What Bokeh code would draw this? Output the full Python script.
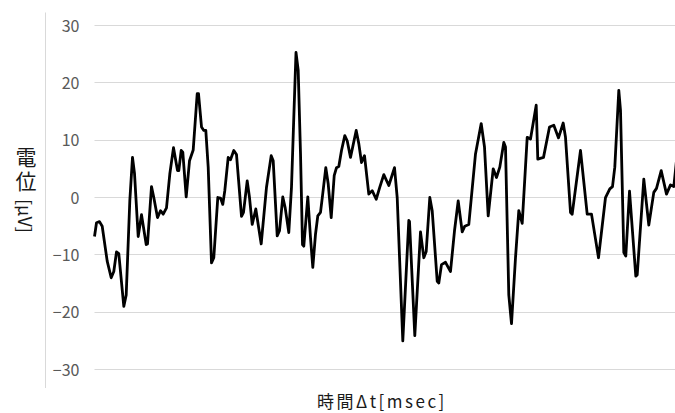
from bokeh.plotting import figure
from bokeh.models import Range1d, FixedTicker, ColumnDataSource, Div
from bokeh.layouts import row, column
from bokeh.embed import file_html
from bokeh.resources import INLINE

# time axis (arbitrary msec units, no tick labels shown) and potential values [μV]
t = [0, 2, 5, 7.7, 12.7, 16.7, 19.3, 22, 24.3, 29.3, 31.7, 35.3, 38, 40, 43.7,
     47, 51.7, 53, 57, 59.3, 63, 66, 68.7, 72, 75.3, 79, 83, 84.3, 86.7, 88.3,
     91.7, 95, 98.7, 102.7, 104, 107, 109.3, 111.3, 113.7, 117, 119.3, 123.3,
     126, 128.3, 130.3, 133.7, 136, 139.3, 142, 147, 149, 152.7, 155, 157.7,
     161.3, 166.7, 172, 176.7, 178.7, 182.7, 185, 188.3, 190.7, 194.3, 197,
     199.3, 201.5, 203.7, 206, 208, 209.3, 213.3, 216, 218.3, 221, 223.3, 226,
     228, 231.3, 233.7, 236.7, 239.7, 242, 244.3, 247, 250.3, 252.7, 256, 261.7,
     264.3, 267, 270, 274.3, 277.7, 281.7, 285.3, 289.3, 294.3, 300, 302.7,
     308.3, 314.3, 315, 320.3, 326, 329.3, 331.7, 335.3, 337.7, 342.7, 344.3,
     347, 351, 356, 360, 363.7, 367.7, 370.3, 374.3, 381, 386.7, 390, 393.7,
     398.7, 402, 405.3, 409.3, 411, 414.3, 417, 421, 424.3, 427.7, 432.7, 436,
     441.7, 443.3, 449, 455, 459.3, 464, 468.7, 471, 476, 477.7, 486, 492.7,
     497, 504, 511, 515.3, 518, 520.3, 524.3, 526, 529.3, 531.3, 535, 541.3,
     542.7, 549.3, 554.3, 559.3, 562, 566.7, 572, 576, 579.3, 582]
v = [-6.8, -4.4, -4.2, -5.0, -11.1, -14.0, -12.9, -9.5, -9.8, -19.0, -17.0,
     -0.6, 7.0, 4.2, -6.8, -3.0, -8.2, -8.1, 1.9, 0.0, -3.5, -2.3, -2.9, -1.8,
     4.1, 8.7, 4.7, 4.7, 8.2, 7.9, 0.1, 6.4, 8.3, 18.1, 18.1, 12.3, 11.7, 11.7,
     5.3, -11.4, -10.5, 0.0, -0.1, -1.2, 1.2, 7.0, 6.6, 8.2, 7.5, -3.3, -2.6,
     2.9, 0.0, -4.7, -2.0, -8.1, 1.8, 7.3, 6.4, -6.7, -5.8, 0.1, -1.8, -6.1,
     1.8, 14.0, 25.3, 22.2, 7.7, -8.2, -8.5, 0.1, -7.0, -12.2, -6.4, -3.2,
     -2.6, 0.3, 5.2, 2.4, -3.5, 3.8, 5.2, 5.4, 8.2, 10.8, 9.9, 7.0, 11.7, 9.4,
     6.1, 7.3, 0.6, 1.2, -0.3, 1.8, 4.0, 2.1, 5.2, 0.0, -25.0, -4.0, -4.2,
     -24.1, -6.0, -10.5, -9.4, 0.0, -2.3, -14.6, -14.9, -11.7, -11.3, -12.9,
     -5.8, -0.6, -6.0, -5.0, -4.7, 7.6, 12.9, 8.8, -3.2, 5.0, 3.5, 5.3, 9.6,
     8.8, -17.0, -22.0, -10.5, -2.3, -4.5, 10.5, 10.2, 16.1, 6.7, 7.0, 12.3,
     12.6, 10.4, 13.0, 10.5, -2.6, -2.9, 8.2, -2.9, -2.9, -10.5, 0.0, 1.5,
     1.9, 5.3, 18.7, 15.2, -9.6, -10.2, 1.1, -13.7, -13.5, 3.2, -4.8, 0.9,
     1.6, 4.7, 0.6, 2.2, 1.9, 6.5]
y_ticks = [-30, -20, -10, 0, 10, 20, 30]
x_title = "時間Δt[msec]"
y_title_cjk = "電位"
y_title_unit = "[μV]"

src = ColumnDataSource(data=dict(t=t, v=v))

W, H = 630, 388
p = figure(width=W, height=H, output_backend="svg", toolbar_location=None,
           x_range=Range1d(-49, 581), y_range=Range1d(-33.31, 32.27),
           min_border_left=0, min_border_right=0, min_border_top=12,
           min_border_bottom=0)
p.outline_line_color = None
p.background_fill_color = "white"
p.border_fill_color = "white"

# y axis: labels drawn inside the bordered box
p.yaxis.ticker = FixedTicker(ticks=y_ticks)
p.yaxis.axis_line_color = "#d9d9d9"
p.yaxis.major_tick_line_color = None
p.yaxis.minor_tick_line_color = None
p.yaxis.major_tick_out = 0
p.yaxis.major_tick_in = 0
p.yaxis.major_label_standoff = -34
p.yaxis.major_label_text_font = "Noto Sans CJK JP"
p.yaxis.major_label_text_font_size = "16px"
p.yaxis.major_label_text_color = "#595959"

p.xaxis.ticker = FixedTicker(ticks=[])
p.xaxis.axis_line_color = "#d9d9d9"
p.xaxis.major_tick_line_color = None
p.xaxis.minor_tick_line_color = None
p.xaxis.major_tick_out = 0
p.xaxis.major_tick_in = 0
p.xaxis.major_label_standoff = 0
p.xaxis.major_label_text_font_size = "0px"

p.xgrid.visible = False
p.ygrid.ticker = FixedTicker(ticks=y_ticks)
p.ygrid.grid_line_color = "#d9d9d9"
p.ygrid.grid_line_width = 1
p.ygrid.cross_bounds = (t[0], 600)

p.line("t", "v", source=src, line_color="black", line_width=2.8,
       line_join="round")

# y axis title: CJK upright, Latin rotated (vertical writing, as in the reference)
ylab = Div(text=('<div style="writing-mode:vertical-rl;text-orientation:mixed;'
                 "font-family:'Noto Sans CJK JP';font-size:21px;line-height:1;"
                 'letter-spacing:3px;color:#1a1a1a;margin:0;padding:0;'
                 'position:relative;left:15px;top:147px;white-space:nowrap;">'
                 + y_title_cjk + '<span style="font-size:18px;letter-spacing:0;'
                 'margin-top:4px;">' + y_title_unit + '</span></div>'),
           width=45, height=H, margin=(0, 0, 0, 0))

# x axis title
xlab = Div(text=('<div style="font-family:\'Noto Sans CJK JP\';font-size:17px;'
                 'line-height:normal;letter-spacing:2.5px;color:#1a1a1a;margin:0;'
                 'padding:0;position:relative;left:317px;top:0px;'
                 'white-space:nowrap;">' + x_title + '</div>'),
           width=675, height=25, margin=(0, 0, 0, 0))

layout = column(row(ylab, p, spacing=0), xlab, spacing=0)
open("out.html", "w").write(file_html(layout, INLINE))
